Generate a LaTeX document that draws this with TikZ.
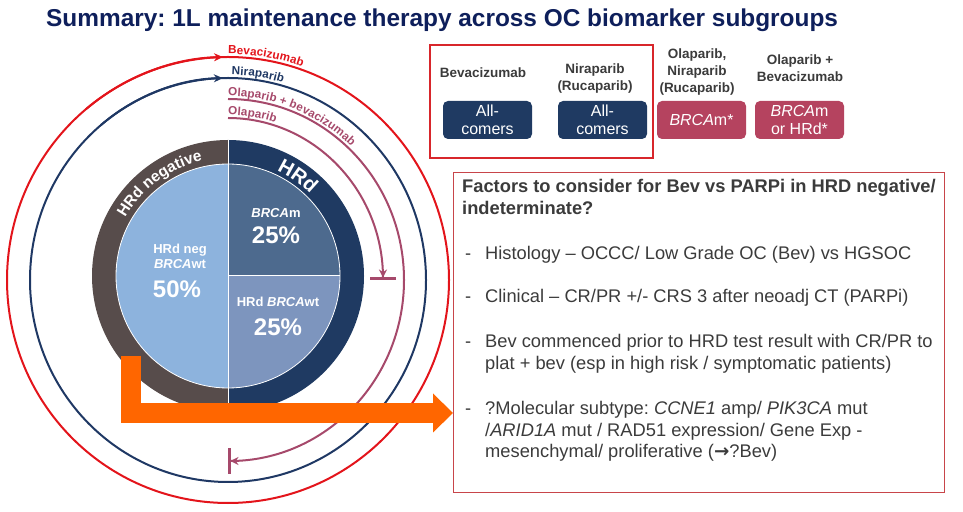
\documentclass[tikz,border=0pt]{standalone}
\usepackage{fontspec}
\setmainfont{Liberation Sans}
\newfontfamily\arrowfont{DejaVu Sans}
\frenchspacing
\usetikzlibrary{arrows.meta,decorations.text}

\definecolor{titleNavy}{HTML}{0E1F5B}
\definecolor{ringNavy}{HTML}{1F3A62}
\definecolor{ringBrown}{HTML}{574C4B}
\definecolor{pieLight}{HTML}{8DB3DD}
\definecolor{pieSlate}{HTML}{4D6A8E}
\definecolor{pieMid}{HTML}{7D95BE}
\definecolor{arcRed}{HTML}{E3141B}
\definecolor{arcNavy}{HTML}{1F3864}
\definecolor{arcMauve}{HTML}{A6496B}
\definecolor{boxMauve}{HTML}{B5435F}
\definecolor{textGray}{HTML}{3B3B3B}
\definecolor{boxRed}{HTML}{D8262B}
\definecolor{factorBorder}{HTML}{C8454A}
\definecolor{orangeArrow}{HTML}{FF6600}

\newcommand{\arclabel}{\bfseries\fontsize{11.7}{12}\selectfont}

\tikzset{
  arcline/.style={line width=2pt},
  endbar/.style={-{Stealth[length=8pt,width=8pt] Bar[width=26pt,line width=2.5pt]}},
  pietext/.style={text=white, font=\bfseries\fontsize{13}{15}\selectfont, align=center},
  bigpct/.style={text=white, font=\bfseries\fontsize{24}{26}\selectfont},
  head/.style={text=textGray, font=\bfseries\fontsize{13.5}{17}\selectfont, align=center},
  drugbox/.style={rounded corners=5pt, minimum width=89pt, minimum height=38pt, text=white,
    font=\fontsize{16}{18}\selectfont, align=center, inner sep=0pt},
  factor/.style={anchor=base west, text=textGray, font=\fontsize{18.3}{22}\selectfont, inner sep=0pt},
}

\begin{document}
\begin{tikzpicture}[x=1pt,y=1pt]
  \useasboundingbox (0,0) rectangle (963,511);

  % title
  \node[anchor=base west, inner sep=0pt, text=titleNavy, font=\bfseries\fontsize{24.4}{28}\selectfont]
    (title) at (46,484) {Summary: 1L maintenance therapy across OC biomarker subgroups};

  % pie
  \coordinate (P) at (228,235);
  \fill[ringBrown] (P) ++(0,136) arc (90:270:136) -- cycle;
  \fill[ringNavy] (P) ++(0,136) arc (90:-90:136) -- cycle;
  \fill[pieLight] (P) ++(0,112) arc (90:270:112) -- cycle;
  \fill[pieSlate] (P) -- ++(0,112) arc (90:0:112) -- cycle;
  \fill[pieMid] (P) -- ++(112,0) arc (0:-90:112) -- cycle;
  \draw[white, line width=0.8pt] (P) circle (112);
  \draw[white, line width=1pt] (P) ++(0,136) -- ++(0,-272);
  \draw[white, line width=1pt] (P) -- ++(112,0);

  % ring labels
  \path[decorate, decoration={text along path, text align=center,
    text={|\color{white}\bfseries\fontsize{15.5}{16}\selectfont|HRd negative}}]
    (P) ++(170:118) arc (170:83:118);
  \path[decorate, decoration={text along path, text align=center,
    text={|\color{white}\bfseries\fontsize{20}{20}\selectfont|HRd}}]
    (P) ++(95:116) arc (95:15:116);

  % pie labels
  \node[pietext] (negLbl) at (180,255) {HRd neg\\\textit{BRCA}wt};
  \node[bigpct] (negPct) at (177,222) {50\%};
  \node[pietext] (brcaLbl) at (276,298) {\textit{BRCA}m};
  \node[bigpct] (brcaPct) at (276,276) {25\%};
  \node[pietext] (wtLbl) at (278,209) {HRd \textit{BRCA}wt};
  \node[bigpct] (wtPct) at (278,184) {25\%};

  % therapy arcs
  \coordinate (arcC) at (228,231);
  \draw[arcline, arcRed] (arcC) ellipse[x radius=221, y radius=223];
  \draw[arcline, arcRed, -{Stealth[length=9pt,width=8pt]}]
    (arcC) ++(130:221 and 223) arc[start angle=130, end angle=91.3, x radius=221, y radius=223];
  \draw[arcline, arcNavy] (arcC) ellipse[x radius=198, y radius=202];
  \draw[arcline, arcNavy, -{Stealth[length=9pt,width=8pt]}]
    (arcC) ++(130:198 and 202) arc[start angle=130, end angle=91.5, x radius=198, y radius=202];
  \draw[arcline, arcMauve, endbar]
    (arcC) ++(90:176 and 181) arc[start angle=90, end angle=-90, x radius=176, y radius=181];
  \draw[arcline, arcMauve, endbar]
    (arcC) ++(90:155 and 162) arc[start angle=90, end angle=0, x radius=155, y radius=162];

  % arc labels
  \path[decorate, decoration={text along path, raise=3pt, text={|\arclabel\color{arcRed}|Bevacizumab}}]
    (arcC) ++(90:221 and 223) arc[start angle=90, end angle=20, x radius=221, y radius=223];
  \path[decorate, decoration={text along path, raise=3pt, text={|\arclabel\color{arcNavy}|Niraparib}}]
    (arcC) ++(89:198 and 202) arc[start angle=89, end angle=20, x radius=198, y radius=202];
  \path[decorate, decoration={text along path, raise=3pt, text={|\arclabel\color{arcMauve}|Olaparib + bevacizumab}}]
    (arcC) ++(90:176 and 181) arc[start angle=90, end angle=0, x radius=176, y radius=181];
  \path[decorate, decoration={text along path, raise=3pt, text={|\arclabel\color{arcMauve}|Olaparib}}]
    (arcC) ++(90:155 and 162) arc[start angle=90, end angle=20, x radius=155, y radius=162];

  % indications
  \draw[boxRed, line width=2pt] (430,466) rectangle (653,353);
  \node[head] (hBev) at (483,438) {Bevacizumab};
  \node[head] (hNira) at (595,432) {Niraparib\\(Rucaparib)};
  \node[head] (hOla) at (697,439) {Olaparib,\\Niraparib\\(Rucaparib)};
  \node[head] (hOlaBev) at (800,443) {Olaparib +\\Bevacizumab};
  \node[drugbox, fill=ringNavy] (bBev) at (487.5,391) {All-\\comers};
  \node[drugbox, fill=ringNavy] (bNira) at (602.5,391) {All-\\comers};
  \node[drugbox, fill=boxMauve] (bOla) at (701.5,391) {\textit{BRCA}m*};
  \node[drugbox, fill=boxMauve] (bOlaBev) at (799.5,391) {\textit{BRCA}m\\or HRd*};

  % factors box
  \node[draw=factorBorder, line width=1.2pt, anchor=north west, inner sep=0pt,
    minimum width=491pt, minimum height=320pt] (factors) at (453,339) {};
  \node[factor, font=\bfseries\fontsize{18.3}{22}\selectfont] (fHead1) at (462,318)
    {Factors to consider for Bev vs PARPi in HRD negative/};
  \node[factor, font=\bfseries\fontsize{18.3}{22}\selectfont] (fHead2) at (462,296) {indeterminate?};
  \foreach \y in {251,208,163,96}
    \node[factor] at (465,\y) {-};
  \node[factor] (fHist) at (485,251) {Histology – OCCC/ Low Grade OC (Bev) vs HGSOC};
  \node[factor] (fClin) at (485,208) {Clinical – CR/PR +/- CRS 3 after neoadj CT (PARPi)};
  \node[factor] (fBev1) at (485,163) {Bev commenced prior to HRD test result with CR/PR to};
  \node[factor] (fBev2) at (485,141) {plat + bev (esp in high risk / symptomatic patients)};
  \node[factor] (fMol1) at (485,96) {?Molecular subtype: \textit{CCNE1} amp/ \textit{PIK3CA} mut};
  \node[factor] (fMol2) at (485,74) {/\textit{ARID1A} mut / RAD51 expression/ Gene Exp -};
  \node[factor] (fMol3) at (485,53) {mesenchymal/ proliferative ({\arrowfont\bfseries →}?Bev)};

  % orange connector
  \coordinate (orangeTop) at (131,155);
  \coordinate (orangeBend) at (131,98);
  \draw[orangeArrow, line width=20pt, -{Triangle[length=20pt,width=39pt,line width=0pt]}]
    (orangeTop) -- (orangeBend) -- (orangeBend -| factors.west);
\end{tikzpicture}
\end{document}
